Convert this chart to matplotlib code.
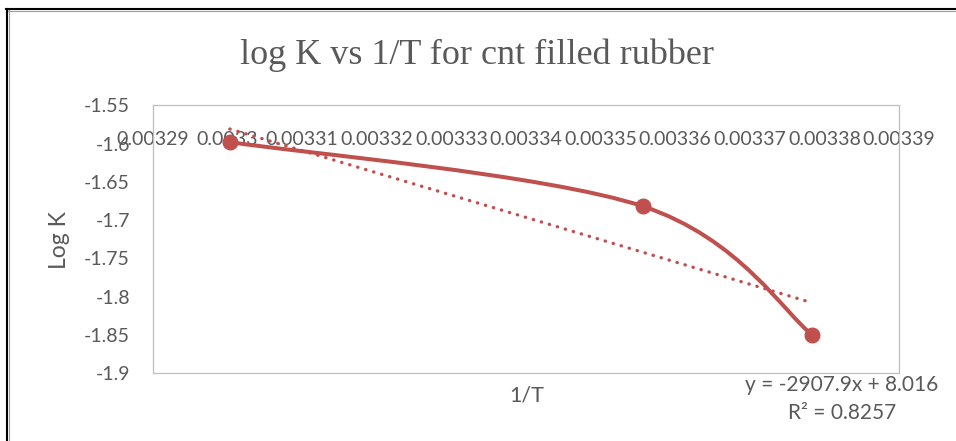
import numpy as np
import matplotlib
matplotlib.use("Agg")
import matplotlib.pyplot as plt
from matplotlib.lines import Line2D
from matplotlib.path import Path
from matplotlib.patches import PathPatch

# Measured data: reciprocal temperature vs log K
inv_T = [0.0033003, 0.0033557, 0.0033784]
log_K = [-1.598, -1.682, -1.850]

# Linear trendline as reported
slope = -2907.9
intercept = 8.016
r_squared = 0.8257

x_ticks = [0.00329, 0.0033, 0.00331, 0.00332, 0.00333, 0.00334,
           0.00335, 0.00336, 0.00337, 0.00338, 0.00339]
x_tick_labels = ["0.00329", "0.0033", "0.00331", "0.00332", "0.00333", "0.00334",
                 "0.00335", "0.00336", "0.00337", "0.00338", "0.00339"]
y_ticks = [-1.9, -1.85, -1.8, -1.75, -1.7, -1.65, -1.6, -1.55]
y_tick_labels = ["-1.9", "-1.85", "-1.8", "-1.75", "-1.7", "-1.65", "-1.6", "-1.55"]

title = "log K vs 1/T for cnt filled rubber"
x_label = "1/T"
y_label = "Log K"

RED = "#c0504d"
GREY = "#595959"
SANS = ["Lato", "DejaVu Sans"]
SERIF = ["Liberation Serif", "DejaVu Serif"]

W, H = 956, 441
fig = plt.figure(figsize=(W / 100, H / 100), dpi=100)
ax = fig.add_axes([153 / W, 1 - 373.3 / H, (899 - 153) / W, (373.3 - 105.3) / H])

ax.set_xlim(x_ticks[0], x_ticks[-1])
ax.set_ylim(y_ticks[0], y_ticks[-1])


def smooth_path(xs, ys):
    """Cubic Bezier through the points with Catmull-Rom style tangents."""
    pts = np.column_stack([xs, ys])
    n = len(pts)
    verts = [pts[0]]
    codes = [Path.MOVETO]
    for i in range(n - 1):
        p0 = pts[max(i - 1, 0)]
        p1 = pts[i]
        p2 = pts[i + 1]
        p3 = pts[min(i + 2, n - 1)]
        c1 = p1 + (p2 - p0) / 6.0
        c2 = p2 - (p3 - p1) / 6.0
        verts += [c1, c2, p2]
        codes += [Path.CURVE4] * 3
    return Path(verts, codes)


ax.add_patch(PathPatch(smooth_path(inv_T, log_K), facecolor="none",
                       edgecolor=RED, lw=2.9, capstyle="round", zorder=3))
ax.plot(inv_T, log_K, "o", color=RED, ms=10.5, zorder=4)

# Trendline over the data range
tx = np.array([min(inv_T), max(inv_T)])
ax.plot(tx, slope * tx + intercept, color=RED, lw=2.4,
        linestyle=(0, (0.1, 2.4)), dash_capstyle="round", zorder=2)

for s in ax.spines.values():
    s.set_color("#bfbfbf")
    s.set_linewidth(0.9)

ax.set_xticks(x_ticks)
ax.set_xticklabels(x_tick_labels, family=SANS, fontsize=14, color=GREY)
ax.set_yticks(y_ticks)
ax.set_yticklabels(y_tick_labels, family=SANS, fontsize=14, color=GREY)
ax.tick_params(axis="both", length=0)
ax.tick_params(axis="y", pad=16.5)
ax.tick_params(axis="x", labelbottom=False, labeltop=True, pad=-31)

fig.text(477 / W, 1 - 64.3 / H, title, family=SERIF, fontsize=26,
         color=GREY, ha="center", va="baseline")
fig.text(59 / W, 1 - 240 / H, y_label, family=SANS, fontsize=16.5,
         color=GREY, ha="center", va="center", rotation=90)
fig.text(527 / W, 1 - 395 / H, x_label, family=SANS, fontsize=15.5,
         color=GREY, ha="center", va="center")
fig.text(842 / W, 1 - 385 / H, f"y = {slope}x + {intercept}",
         family=SANS, fontsize=15, color=GREY, ha="center", va="center")
fig.text(842 / W, 1 - 413 / H, f"R\u00b2 = {r_squared}",
         family=SANS, fontsize=15, color=GREY, ha="center", va="center")

# Outer frame of the chart
fig.add_artist(Line2D([7.5 / W, 1], [1 - 10.5 / H] * 2, color="#a0a0a0", lw=0.8))
fig.add_artist(Line2D([8.5 / W] * 2, [0, 1 - 9 / H], color="#a0a0a0", lw=0.8))
fig.add_artist(Line2D([6 / W, 1], [1 - 9.3 / H] * 2, color="black", lw=1.5))
fig.add_artist(Line2D([7 / W] * 2, [0, 1 - 9.3 / H], color="black", lw=1.5))

fig.savefig("out.png", dpi=100, facecolor="white")
